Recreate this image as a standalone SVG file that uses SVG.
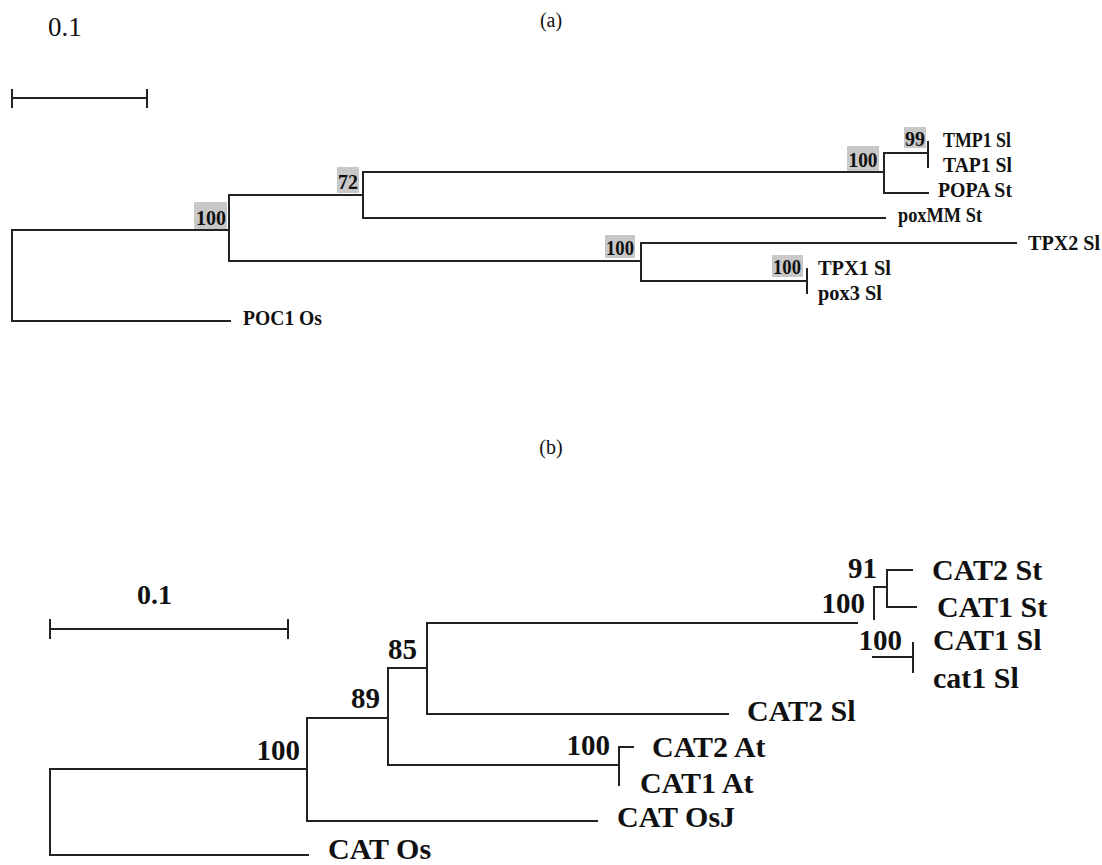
<svg xmlns="http://www.w3.org/2000/svg" width="1102" height="865" viewBox="0 0 1102 865">
<style>
.ln{fill:none;stroke:#222;stroke-width:2;stroke-linecap:square}
.ta{font-family:"Liberation Serif","Times New Roman",serif;font-weight:bold;font-size:20px;fill:#111}
.ba{font-family:"Liberation Serif","Times New Roman",serif;font-weight:bold;font-size:20px;fill:#111}
.bg{fill:#c8c8c8}
.tb{font-family:"Liberation Serif","Times New Roman",serif;font-weight:bold;font-size:30px;fill:#111}
.bb{font-family:"Liberation Serif","Times New Roman",serif;font-weight:bold;font-size:29px;fill:#111}
.cap{font-family:"Liberation Serif","Times New Roman",serif;font-size:20px;fill:#111}
</style>
<rect width="1102" height="865" fill="#fff"/>
<text x="48" y="36" style="font-family:'Liberation Serif',serif;font-size:27px;fill:#111">0.1</text>
<text class="cap" x="551" y="27" text-anchor="middle">(a)</text>
<text class="cap" x="551" y="454" text-anchor="middle">(b)</text>
<text x="137" y="604" style="font-family:'Liberation Serif',serif;font-weight:bold;font-size:28px;fill:#111">0.1</text>
<g id="connectors">
<path class="ln" d="M12,98 H147 M12,90 V107 M147,90 V107"/>
<path class="ln" d="M229,230 H12 V321 H230"/>
<path class="ln" d="M363,195 H229 V261 H641"/>
<path class="ln" d="M884,172 H363 V218 H885"/>
<path class="ln" d="M1016,243 H641 V281 H807"/>
<path class="ln" d="M928,153 H884 V193 H928"/>
<path class="ln" d="M928,142 V167"/>
<path class="ln" d="M807,269 V293"/>
<path class="ln" d="M50,629 H288 M50,620 V638 M288,620 V638"/>
<path class="ln" d="M307,769 H50 V855 H308"/>
<path class="ln" d="M388,718 H307 V821 H597"/>
<path class="ln" d="M427,668 H388 V765 H619"/>
<path class="ln" d="M857,623 H427 V714 H728"/>
<path class="ln" d="M874,619 V587 H887"/>
<path class="ln" d="M912,570 H887 V607 H916"/>
<path class="ln" d="M619,785 V747 H633"/>
<path class="ln" d="M873,657 H913 M913,643 V672"/>
</g>
<g id="a-boot-root"><rect class="bg" x="194" y="202" width="33" height="27"/><text class="ba" x="211" y="225" text-anchor="middle" textLength="30" lengthAdjust="spacingAndGlyphs">100</text></g>
<g id="a-boot-72"><rect class="bg" x="337" y="167" width="22" height="26"/><text class="ba" x="348" y="189" text-anchor="middle">72</text></g>
<g id="a-boot-tmp"><rect class="bg" x="847" y="146" width="32" height="25"/><text class="ba" x="863" y="167" text-anchor="middle" textLength="29" lengthAdjust="spacingAndGlyphs">100</text></g>
<g id="a-boot-99"><rect class="bg" x="904" y="127" width="22" height="21"/><text class="ba" x="915" y="146" text-anchor="middle">99</text></g>
<g id="a-boot-tpx"><rect class="bg" x="605" y="235" width="30" height="23"/><text class="ba" x="620" y="255" text-anchor="middle" textLength="28" lengthAdjust="spacingAndGlyphs">100</text></g>
<g id="a-boot-tpx1"><rect class="bg" x="772" y="255" width="31" height="22"/><text class="ba" x="787" y="274" text-anchor="middle" textLength="28" lengthAdjust="spacingAndGlyphs">100</text></g>
<g id="TMP1_Sl"><text class="ta" x="943" y="147" textLength="68" lengthAdjust="spacingAndGlyphs">TMP1 Sl</text></g>
<g id="TAP1_Sl"><text class="ta" x="943" y="172" textLength="69" lengthAdjust="spacingAndGlyphs">TAP1 Sl</text></g>
<g id="POPA_St"><text class="ta" x="938" y="197" textLength="74" lengthAdjust="spacingAndGlyphs">POPA St</text></g>
<g id="poxMM_St"><text class="ta" x="898" y="222" textLength="84" lengthAdjust="spacingAndGlyphs">poxMM St</text></g>
<g id="TPX2_Sl"><text class="ta" x="1028" y="250" textLength="72" lengthAdjust="spacingAndGlyphs">TPX2 Sl</text></g>
<g id="TPX1_Sl"><text class="ta" x="818" y="275" textLength="73" lengthAdjust="spacingAndGlyphs">TPX1 Sl</text></g>
<g id="pox3_Sl"><text class="ta" x="818" y="300" textLength="64" lengthAdjust="spacingAndGlyphs">pox3 Sl</text></g>
<g id="POC1_Os"><text class="ta" x="243" y="325" textLength="79" lengthAdjust="spacingAndGlyphs">POC1 Os</text></g>
<g id="b-boot-root"><text class="bb" x="300" y="760" text-anchor="end">100</text></g>
<g id="b-boot-89"><text class="bb" x="380" y="708" text-anchor="end">89</text></g>
<g id="b-boot-85"><text class="bb" x="417" y="659" text-anchor="end">85</text></g>
<g id="b-boot-91"><text class="bb" x="877" y="578" text-anchor="end">91</text></g>
<g id="b-boot-st"><text class="bb" x="865" y="613" text-anchor="end">100</text></g>
<g id="b-boot-sl"><text class="bb" x="902" y="650" text-anchor="end">100</text></g>
<g id="b-boot-at"><text class="bb" x="610" y="755" text-anchor="end">100</text></g>
<g id="CAT2_St"><text class="tb" x="932" y="580">CAT2 St</text></g>
<g id="CAT1_St"><text class="tb" x="937" y="617">CAT1 St</text></g>
<g id="CAT1_Sl"><text class="tb" x="933" y="650">CAT1 Sl</text></g>
<g id="cat1_Sl"><text class="tb" x="933" y="688">cat1 Sl</text></g>
<g id="CAT2_Sl"><text class="tb" x="747" y="721">CAT2 Sl</text></g>
<g id="CAT2_At"><text class="tb" x="652" y="757">CAT2 At</text></g>
<g id="CAT1_At"><text class="tb" x="640" y="793">CAT1 At</text></g>
<g id="CAT_OsJ"><text class="tb" x="617" y="827">CAT OsJ</text></g>
<g id="CAT_Os"><text class="tb" x="328" y="859">CAT Os</text></g>
</svg>
